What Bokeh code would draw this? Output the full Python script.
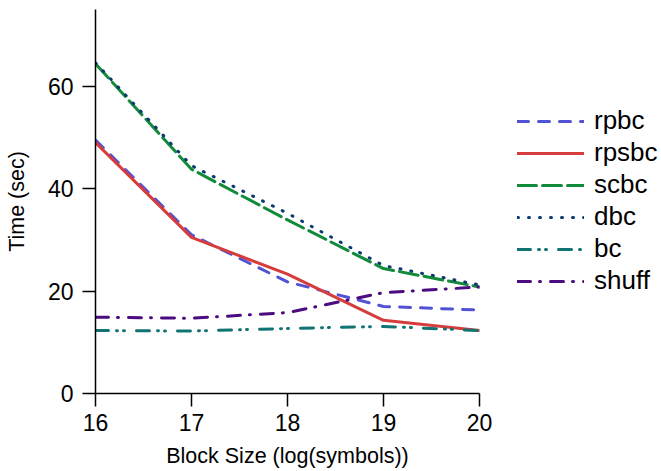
from bokeh.plotting import figure
from bokeh.models import Legend, LegendItem, Range1d, FixedTicker
from bokeh.embed import file_html
from bokeh.resources import INLINE

block_size = [16, 17, 18, 19, 20]
rpbc = [49.5, 31.0, 21.8, 17.0, 16.3]
rpsbc = [49.0, 30.5, 23.3, 14.3, 12.3]
scbc = [64.4, 43.8, 33.9, 24.4, 20.8]
dbc = [64.6, 44.5, 35.2, 25.0, 21.2]
bc = [12.3, 12.2, 12.7, 13.1, 12.3]
shuff = [14.9, 14.7, 15.8, 19.7, 20.8]

series = [
    ("rpbc", rpbc, "#5252d6", "11 10"),
    ("rpsbc", rpsbc, "#d63c3c", "solid"),
    ("scbc", scbc, "#118a3a", "19 6"),
    ("dbc", dbc, "#0a3a70", "1 10"),
    ("bc", bc, "#127373", "13 8 1 6 1 12"),
    ("shuff", shuff, "#4c0b80", "13 9 1 10"),
]

FONT = "Liberation Sans"

p = figure(frame_width=384, frame_height=384, output_backend="svg", toolbar_location=None,
           x_range=Range1d(16, 20), y_range=Range1d(0, 75),
           min_border_left=95, min_border_right=182, min_border_top=9, min_border_bottom=78)
p.outline_line_color = None
p.xgrid.visible = False
p.ygrid.visible = False
p.background_fill_color = "white"
p.border_fill_color = "white"

items = []
for name, vals, color, dash in series:
    r = p.line(block_size, vals, line_color=color, line_width=3, line_dash=dash,
               line_cap="round", line_join="round")
    items.append(LegendItem(label=name, renderers=[r]))

for ax in (p.xaxis[0], p.yaxis[0]):
    ax.axis_line_color = "black"
    ax.axis_line_width = 1.5
    ax.major_tick_line_color = "black"
    ax.major_tick_line_width = 1.5
    ax.major_tick_out = 13
    ax.major_tick_in = 0
    ax.minor_tick_line_color = None
    ax.major_label_text_font = FONT
    ax.major_label_text_font_size = "23px"
    ax.major_label_text_color = "black"
    ax.axis_label_text_font = FONT
    ax.axis_label_text_font_size = "21.5px"
    ax.axis_label_text_font_style = "normal"
    ax.axis_label_text_color = "black"

p.xaxis.ticker = FixedTicker(ticks=block_size)
p.yaxis.ticker = FixedTicker(ticks=[0, 20, 40, 60])
p.xaxis.axis_label = "Block Size (log(symbols))"
p.yaxis.axis_label = "Time (sec)"
p.xaxis.major_label_standoff = 7
p.yaxis.major_label_standoff = 9
p.xaxis.axis_label_standoff = 10
p.yaxis.axis_label_standoff = 16

legend = Legend(items=items, location=(38, 97), orientation="vertical",
                glyph_width=67, glyph_height=30, label_height=30, spacing=1,
                label_standoff=10, padding=0, margin=0,
                border_line_color=None, background_fill_alpha=0,
                label_text_font=FONT, label_text_font_size="26px",
                label_text_color="black")
p.add_layout(legend, "right")

open("out.html", "w").write(file_html(p, INLINE))
